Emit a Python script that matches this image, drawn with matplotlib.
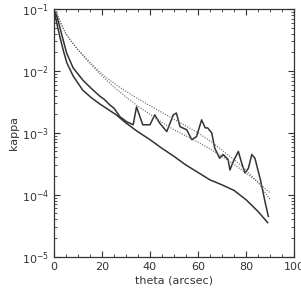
import numpy as np
import matplotlib
matplotlib.use("Agg")
import matplotlib.pyplot as plt
from matplotlib.ticker import MultipleLocator, LogLocator

# lower smooth profile (log10 kappa)
theta_low = [0.5, 1.5, 2.5, 4, 5.4, 8, 12, 15.5, 19, 22.5, 26, 30, 34.5, 40, 45, 50,
             55, 60, 65, 70, 75, 80, 85, 89]
logk_low = [-1.1, -1.28, -1.45, -1.68, -1.87, -2.08, -2.31, -2.43, -2.53, -2.62, -2.71,
            -2.84, -2.97, -3.11, -3.25, -3.38, -3.52, -3.64, -3.76, -3.84, -3.93, -4.08,
            -4.27, -4.45]

# upper noisy profile
theta_up = [0.5, 1.5, 2.5, 4, 5.3, 8, 12.1, 15.5, 19.2, 21, 23.3, 25, 27.5, 30.3, 33,
            34.4, 37, 40, 42, 44, 47, 49.7, 51, 52.5, 55.3, 57.4, 59.4, 61.5, 63, 64,
            65.7, 67, 69, 70.5, 72.5, 73.3, 74.7, 76.8, 78.2, 79.6, 81, 82.4, 83.7, 86,
            88, 89.3]
logk_up = [-1.05, -1.15, -1.3, -1.52, -1.71, -1.95, -2.15, -2.28, -2.41, -2.46, -2.55,
           -2.6, -2.74, -2.82, -2.87, -2.58, -2.87, -2.87, -2.71, -2.84, -2.98, -2.71,
           -2.68, -2.90, -2.95, -3.11, -3.06, -2.79, -2.92, -2.92, -3.0, -3.25, -3.41,
           -3.35, -3.43, -3.6, -3.46, -3.30, -3.49, -3.65, -3.57, -3.35, -3.41, -3.76,
           -4.13, -4.35]

# dotted model curves
theta_dot = [0.5, 2.5, 5, 7.5, 10, 15, 20, 25, 30, 35, 40, 45, 50, 55, 60, 65, 70, 75,
             80, 85, 90]
logk_dot_a = [-1.0, -1.2, -1.4, -1.53, -1.65, -1.86, -2.05, -2.2, -2.33, -2.45, -2.56,
              -2.67, -2.78, -2.89, -3.0, -3.13, -3.28, -3.43, -3.6, -3.8, -4.08]
logk_dot_b = [-1.0, -1.2, -1.4, -1.54, -1.66, -1.88, -2.08, -2.26, -2.42, -2.57, -2.7,
              -2.83, -2.95, -3.05, -3.15, -3.26, -3.38, -3.51, -3.65, -3.8, -3.97]

fig = plt.figure(figsize=(3.01, 2.91), dpi=100)
ax = fig.add_axes([0.179, 0.118, 0.798, 0.851])

lc = '#333333'
ax.plot(theta_low, 10 ** np.array(logk_low), color=lc, lw=1.1)
ax.plot(theta_up, 10 ** np.array(logk_up), color=lc, lw=1.1)
ax.plot(theta_dot, 10 ** np.array(logk_dot_a), color='#666666', lw=0.8, ls=(0, (1, 1.3)))
ax.plot(theta_dot, 10 ** np.array(logk_dot_b), color='#666666', lw=0.8, ls=(0, (1, 1.3)))

ax.set_yscale('log')
ax.set_xlim(0, 100)
ax.set_ylim(1e-5, 1e-1)
ax.xaxis.set_major_locator(MultipleLocator(20))
ax.xaxis.set_minor_locator(MultipleLocator(5))
ax.yaxis.set_major_locator(LogLocator(base=10))
ax.yaxis.set_minor_locator(LogLocator(base=10, subs=np.arange(2, 10)))

ax.tick_params(which='both', direction='in', top=True, right=True, colors=lc,
               labelsize=8, labelcolor='#333333')
ax.tick_params(which='major', length=4, width=0.8)
ax.tick_params(which='minor', length=2, width=0.6)
for s in ax.spines.values():
    s.set_color(lc)
    s.set_linewidth(0.9)

ax.set_xlabel('theta (arcsec)', fontsize=8, color='#333333', labelpad=3)
ax.set_ylabel('kappa', fontsize=8, color='#333333', labelpad=2)

fig.savefig('out.png', dpi=100)
